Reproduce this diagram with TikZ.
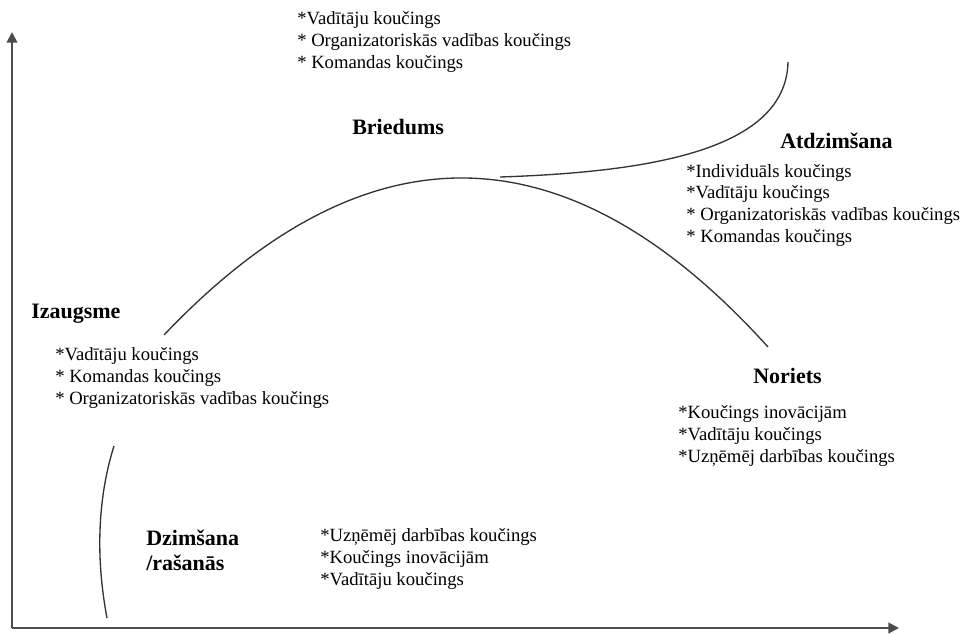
\documentclass[tikz,border=0pt]{standalone}
\usepackage{fontspec}
\setmainfont{Liberation Serif}
\usetikzlibrary{arrows.meta}
\begin{document}
\begin{tikzpicture}[x=0.75pt,y=-0.75pt,
  axis/.style={draw=black!70, line width=1.5pt, -{Triangle[length=8pt,width=8pt]}},
  curve/.style={draw=black!80, line width=1pt},
  list/.style={anchor=base west, align=left, inner sep=0pt, font=\fontsize{14}{16.2}\selectfont},
  title/.style={anchor=base west, align=left, inner sep=0pt, font=\fontsize{16.5}{18.5}\selectfont\bfseries}]
\useasboundingbox (0,0) rectangle (967,633);
% axes
\coordinate (o) at (12,628);
\coordinate (ytip) at (12,32);
\coordinate (xtip) at (899,628);
\draw[axis] (o) -- (ytip);
\draw[axis] (o) -- (xtip);
% curves
\coordinate (b1) at (107,618);
\coordinate (b2) at (114,446);
\draw[curve] (b1) .. controls (96,560) and (97,500) .. (b2);
\coordinate (m1) at (164,335);
\coordinate (m2) at (768,347);
\draw[curve] (m1) .. controls (366.7,121.7) and (568,125.7) .. (m2);
\coordinate (r1) at (500,177);
\coordinate (r2) at (788,62);
\draw[curve] (r1) .. controls (650,172) and (786,150) .. (r2);
% texts (base anchor = baseline of the last line)
\node[list] (topl) at (297,68) {*Vadītāju koučings\\* Organizatoriskās vadības koučings\\* Komandas koučings};
\node[title] (bried) at (352,134) {Briedums};
\node[title] (atdz) at (780,148) {Atdzimšana};
\node[list] (atdzl) at (686,242) {*Individuāls koučings\\*Vadītāju koučings\\* Organizatoriskās vadības koučings\\* Komandas koučings};
\node[title] (izaug) at (31,318) {Izaugsme};
\node[list] (izaugl) at (55,404) {*Vadītāju koučings\\* Komandas koučings\\* Organizatoriskās vadības koučings};
\node[title] (nor) at (753,383) {Noriets};
\node[list] (norl) at (678,462) {*Koučings inovācijām\\*Vadītāju koučings\\*Uzņēmēj darbības koučings};
\node[title] (dzim) at (146,570) {Dzimšana\\/rašanās};
\node[list] (dziml) at (320,585) {*Uzņēmēj darbības koučings\\*Koučings inovācijām\\*Vadītāju koučings};
\end{tikzpicture}
\end{document}
